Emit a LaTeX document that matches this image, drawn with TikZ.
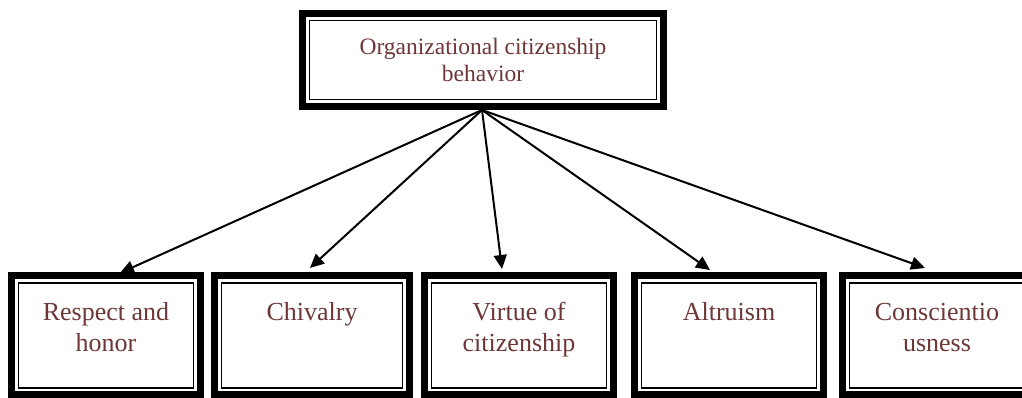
\documentclass[tikz,border=0pt]{standalone}
\usepackage{fontspec}
\setmainfont{Liberation Serif}
\usetikzlibrary{positioning}
\usetikzlibrary{arrows.meta}
\definecolor{textbrown}{RGB}{110,55,55}

\begin{document}
\begin{tikzpicture}[x=1pt, y=1pt,
    box/.style={draw, line width=1.5pt, outer sep=0pt, align=center, text=textbrown},
    headbox/.style={box, minimum width=347pt, minimum height=79pt, font=\fontsize{23.5}{27}\selectfont},
    subbox/.style={box, minimum width=175pt, minimum height=105pt, font=\fontsize{26}{31}\selectfont,
        execute at begin node=\strut, execute at end node={\rule[-17pt]{0pt}{17pt}}},
    frame/.style={draw, line width=7pt},
    link/.style={-{Triangle[length=14pt,width=13pt]}, line width=2pt}]
    \useasboundingbox (0,0) rectangle (1022,398);

    \node[headbox] (ocb) at (483,338) {Organizational citizenship\\behavior};

    \node[subbox] (resp) at (106,62.5) {Respect and\\honor};
    \node[subbox, minimum width=181pt, right=28pt of resp] (chiv) {Chivalry\\\mbox{}};
    \node[subbox, right=29pt of chiv] (virt) {Virtue of\\citizenship};
    \node[subbox, right=35pt of virt] (altr) {Altruism\\\mbox{}};
    \node[subbox, right=33pt of altr] (consc) {Conscientio\\usness};

    % thick outer band round every box
    \foreach \n in {ocb,resp,chiv,virt,altr,consc}
        \draw[frame] ([shift={(-7pt,-7pt)}]\n.south west) rectangle ([shift={(7pt,7pt)}]\n.north east);

    \coordinate (hub) at ([shift={(-1pt,-10.5pt)}]ocb.south);
    \draw[link] (hub) -- ([shift={(14pt,10pt)}]resp.north);
    \draw[link] (hub) -- ([shift={(-2pt,15pt)}]chiv.north);
    \draw[link] (hub) -- ([shift={(-17pt,14pt)}]virt.north);
    \draw[link] (hub) -- ([shift={(-19pt,13pt)}]altr.north);
    \draw[link] (hub) -- ([shift={(-12pt,15pt)}]consc.north);
\end{tikzpicture}
\end{document}
